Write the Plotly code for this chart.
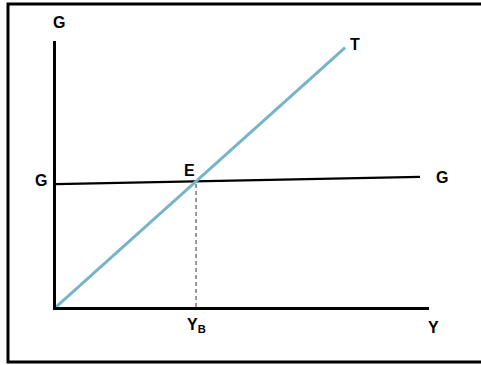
import plotly.graph_objects as go

# lines (Y along x axis, G/T along y axis)
t_y = [0, 7.75]
t_val = [0, 9.75]
g_y = [0, 9.76]
g_val = [4.62, 4.89]

labels = ["G", "G", "E", "T", "G", "Y<sub>B</sub>", "Y"]
label_x = [0.08, -0.40, 3.59, 8.01, 10.34, 3.78, 10.13]
label_y = [10.68, 4.77, 5.15, 9.85, 4.85, -0.71, -0.78]

# equilibrium point E where the T line crosses the G line
st = (t_val[1] - t_val[0]) / (t_y[1] - t_y[0])
sg = (g_val[1] - g_val[0]) / (g_y[1] - g_y[0])
yb = (g_val[0] - t_val[0]) / (st - sg)
e_val = st * yb

fig = go.Figure()
fig.add_trace(go.Scatter(x=[yb, yb], y=[0, e_val], mode='lines',
                         line=dict(color='#333333', width=1, dash='4px,3px')))
fig.add_trace(go.Scatter(x=g_y, y=g_val, mode='lines',
                         line=dict(color='black', width=2.2)))
fig.add_trace(go.Scatter(x=t_y, y=t_val, mode='lines',
                         line=dict(color='#78b4c8', width=3)))

# axes run 0..10, so paper position = value / 10 (labels sit outside the range)
for txt, x, y in zip(labels, label_x, label_y):
    fig.add_annotation(x=x / 10, y=y / 10, xref='paper', yref='paper',
                       xanchor='center', yanchor='middle',
                       text='<b>' + txt + '</b>', showarrow=False,
                       font=dict(family='Liberation Sans', size=16, color='black'))

fig.add_shape(type='rect', xref='paper', yref='paper',
              x0=-0.1287, x1=1.2, y0=-0.2068, y1=1.139,
              line=dict(color='black', width=3))

fig.update_layout(
    width=481, height=365,
    margin=dict(l=56, r=52, t=41, b=58),
    paper_bgcolor='white', plot_bgcolor='white',
    showlegend=False,
    font=dict(family='Liberation Sans'),
    xaxis=dict(range=[0, 10], showline=True, linecolor='black', linewidth=2.5,
               showgrid=False, zeroline=False, showticklabels=False, ticks=''),
    yaxis=dict(range=[0, 10], showline=True, linecolor='black', linewidth=2.5,
               showgrid=False, zeroline=False, showticklabels=False, ticks=''),
)

fig.write_html("out.html", config={'displayModeBar': False},
               post_script="document.body.style.margin='0';")
